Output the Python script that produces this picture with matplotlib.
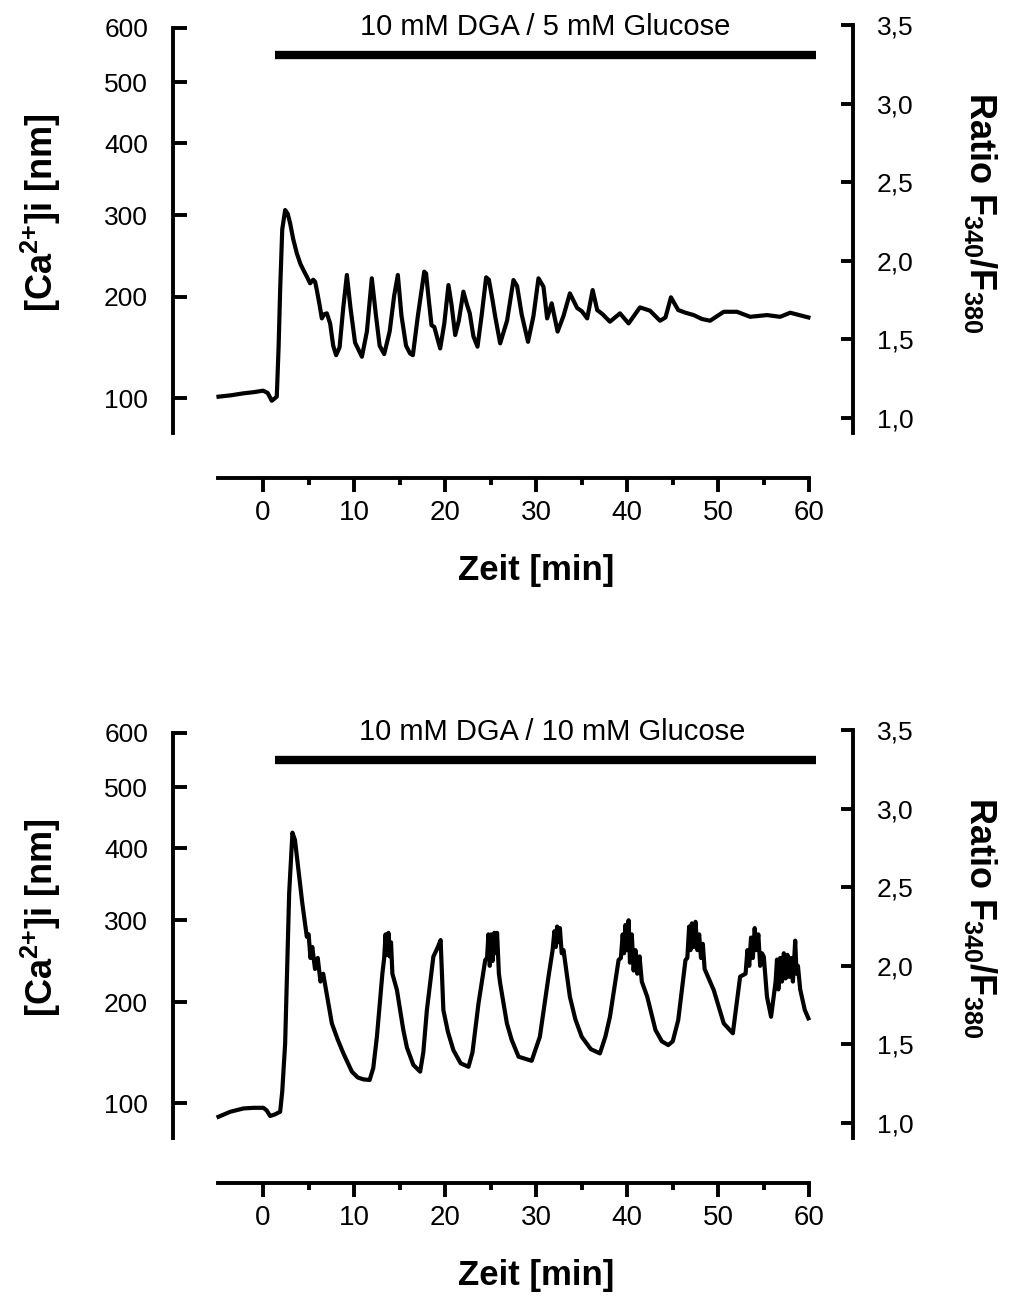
import matplotlib.pyplot as plt
from matplotlib.transforms import blended_transform_factory
import numpy as np

plt.rcParams['font.family'] = ['Liberation Sans', 'DejaVu Sans']
plt.rcParams['mathtext.fontset'] = 'custom'
plt.rcParams['mathtext.rm'] = 'Liberation Sans'
plt.rcParams['mathtext.bf'] = 'Liberation Sans:bold'
plt.rcParams['mathtext.default'] = 'regular'

# ---- data (time in min, fura-2 ratio F340/F380) ----
time_5 = [-4.9, -3.5, -2.2, -1.0, 0.0, 0.5, 0.95, 1.5, 1.7, 1.87, 2.1, 2.42, 2.7,
          2.97, 3.3, 3.7, 4.1, 4.43, 4.8, 5.16, 5.5, 5.71, 5.9, 6.2, 6.45, 6.7,
          7.0, 7.36, 7.7, 8.02, 8.4, 8.8, 9.2, 9.6, 10.1, 10.85, 11.4, 11.94,
          12.4, 12.8, 13.3, 13.9, 14.4, 14.8, 15.2, 15.7, 16.15, 16.45, 17.0,
          17.7, 17.9, 18.2, 18.5, 18.8, 19.45, 19.9, 20.36, 20.7, 21.1, 21.5,
          22.0, 22.4, 22.7, 23.1, 23.55, 24.0, 24.5, 24.8, 25.2, 25.5, 26.04,
          26.8, 27.5, 27.9, 28.4, 29.1, 29.7, 30.25, 30.8, 31.2, 31.7, 32.35,
          33.0, 33.7, 34.5, 35.0, 35.6, 36.2, 36.7, 37.3, 38.1, 39.2, 40.15,
          41.4, 42.5, 43.6, 44.2, 44.8, 45.6, 46.4, 47.3, 48.2, 49.1, 50.6,
          52.05, 53.5, 55.35, 56.8, 57.9, 59.9]
ratio_5 = [1.136, 1.145, 1.157, 1.165, 1.174, 1.16, 1.11, 1.136, 1.45, 1.814, 2.2,
           2.323, 2.30, 2.238, 2.14, 2.048, 1.98, 1.941, 1.90, 1.857, 1.88, 1.867,
           1.814, 1.72, 1.634, 1.66, 1.666, 1.602, 1.46, 1.40, 1.45, 1.70, 1.91,
           1.70, 1.48, 1.39, 1.55, 1.889, 1.65, 1.46, 1.407, 1.55, 1.78, 1.91,
           1.65, 1.46, 1.41, 1.40, 1.65, 1.931, 1.92, 1.75, 1.59, 1.58, 1.443,
           1.60, 1.846, 1.72, 1.528, 1.62, 1.804, 1.72, 1.666, 1.52, 1.454, 1.65,
           1.895, 1.88, 1.75, 1.644, 1.475, 1.62, 1.878, 1.84, 1.66, 1.485, 1.65,
           1.889, 1.835, 1.634, 1.73, 1.55, 1.65, 1.793, 1.70, 1.68, 1.634, 1.814,
           1.687, 1.66, 1.613, 1.666, 1.602, 1.704, 1.683, 1.619, 1.64, 1.768,
           1.687, 1.67, 1.655, 1.63, 1.619, 1.676, 1.676, 1.644, 1.655, 1.644,
           1.67, 1.64]

time_10 = [-4.9, -3.6, -2.16, -1.0, 0.03, 0.4, 0.77, 1.3, 1.87, 2.1, 2.42, 2.86,
           3.22, 3.5, 3.88, 4.3, 4.8, 5.0, 5.2, 5.4, 5.7, 6.0, 6.3, 6.6, 6.9,
           7.55, 8.2, 8.82, 9.75, 10.4, 11.0, 11.7, 12.1, 12.5, 13.1, 13.3,
           13.45, 13.6, 13.77, 13.9, 14.05, 14.2, 14.7, 15.4, 15.8, 16.5, 17.25,
           17.6, 17.99, 18.7, 19.2, 19.5, 19.8, 20.3, 20.9, 21.7, 22.56, 23.0,
           23.66, 24.4, 24.6, 24.75, 24.9, 25.05, 25.2, 25.4, 25.55, 25.7, 25.9,
           26.04, 26.78, 27.3, 28.06, 29.5, 30.4, 31.35, 31.8, 32.0, 32.15, 32.3,
           32.45, 32.6, 32.8, 33.0, 33.7, 34.3, 35.0, 36.0, 37.0, 37.6, 38.1,
           39.05, 39.3, 39.5, 39.65, 39.8, 39.95, 40.15, 40.3, 40.5, 40.7, 40.9,
           41.1, 41.35, 41.6, 42.2, 43.1, 43.8, 44.5, 45.0, 45.6, 46.4, 46.6,
           46.8, 46.95, 47.1, 47.3, 47.5, 47.7, 47.9, 48.1, 48.3, 48.5, 49.5,
           50.6, 51.6, 52.4, 53.0, 53.2, 53.4, 53.6, 53.8, 54.0, 54.2, 54.4,
           54.6, 54.8, 55.0, 55.35, 55.8, 56.3, 56.45, 56.6, 56.8, 57.0, 57.2,
           57.4, 57.6, 57.8, 58.0, 58.2, 58.45, 58.6, 58.75, 59.0, 59.5, 59.9]
ratio_10 = [1.04, 1.072, 1.093, 1.097, 1.097, 1.08, 1.045, 1.055, 1.072, 1.2,
            1.507, 2.461, 2.847, 2.80, 2.609, 2.40, 2.185, 2.2, 2.05, 2.12, 1.98,
            2.05, 1.9, 1.95, 1.85, 1.634, 1.53, 1.443, 1.327, 1.29, 1.278, 1.274,
            1.35, 1.549, 1.95, 2.05, 2.2, 2.07, 2.21, 2.06, 2.15, 1.95, 1.846,
            1.592, 1.48, 1.37, 1.327, 1.45, 1.719, 2.058, 2.12, 2.164, 1.719,
            1.58, 1.464, 1.38, 1.358, 1.45, 1.761, 2.037, 2.05, 2.2, 2.0, 2.2,
            2.03, 2.21, 2.08, 2.21, 1.95, 1.889, 1.634, 1.53, 1.422, 1.396, 1.549,
            1.931, 2.1, 2.22, 2.12, 2.25, 2.15, 2.24, 2.08, 2.10, 1.803, 1.66,
            1.549, 1.47, 1.443, 1.55, 1.676, 2.037, 2.05, 2.2, 2.08, 2.26, 2.1,
            2.29, 2.02, 2.2, 1.97, 2.1, 1.95, 2.06, 1.9, 1.803, 1.592, 1.52, 1.496,
            1.52, 1.655, 2.037, 2.05, 2.25, 2.1, 2.27, 2.12, 2.28, 2.1, 2.2, 2.05,
            2.14, 1.98, 1.846, 1.634, 1.571, 1.931, 1.95, 2.1, 2.0, 2.18, 2.05,
            2.24, 2.1, 2.2, 2.0, 2.08, 2.058, 1.803, 1.676, 1.9, 2.04, 1.85, 2.05,
            1.9, 2.08, 1.92, 2.07, 1.93, 2.05, 1.9, 2.16, 1.95, 2.0, 1.85, 1.72,
            1.666]

titles = ['10 mM DGA / 5 mM Glucose', '10 mM DGA / 10 mM Glucose']
bar_span = [1.3, 60.7]          # treatment bar (min)

ca_labels = ['100', '200', '300', '400', '500', '600']
ca_ratio_pos = [1.127, 1.770, 2.291, 2.749, 3.137, 3.481]
ratio_ticks = [1.0, 1.5, 2.0, 2.5, 3.0, 3.5]
ratio_labels = ['1,0', '1,5', '2,0', '2,5', '3,0', '3,5']
time_ticks = [0, 10, 20, 30, 40, 50, 60]

fig = plt.figure(figsize=(10.09, 12.96), dpi=100)
W, H = 1009, 1296

panels = [(time_5, ratio_5, titles[0], 433, 31.0),
          (time_10, ratio_10, titles[1], 1138, 31.8)]

for t, r, title, bot_px, title_x in panels:
    ax = fig.add_axes([173 / W, 1 - bot_px / H, 680 / W, 408 / H])
    ax.plot(t, r, color='black', lw=3.0, solid_joinstyle='round')
    ax.plot(bar_span, [3.31, 3.31], color='black', lw=6, solid_capstyle='butt')
    ax.text(title_x, 3.436, title, ha='center', va='baseline', fontsize=21)

    ax.set_xlim(-9.9, 64.8)
    ax.set_ylim(0.905, 3.5)

    for s in ['top', 'right']:
        ax.spines[s].set_visible(False)
    ax.spines['left'].set_linewidth(2.8)
    ax.spines['left'].set_bounds(0.905, 3.481)
    ax.spines['bottom'].set_linewidth(2.8)
    ax.spines['bottom'].set_bounds(-5, 60)
    ax.spines['bottom'].set_position(('outward', 32.4))

    ax.set_xticks(time_ticks)
    ax.set_xticks(np.arange(5, 60, 10), minor=True)
    ax.tick_params(axis='x', which='major', direction='out', length=10, width=2.8,
                   pad=6, labelsize=20)
    ax.tick_params(axis='x', which='minor', direction='out', length=5, width=2.8)
    ax.set_yticks(ca_ratio_pos, labels=ca_labels)
    ax.tick_params(axis='y', direction='in', length=10, width=2.8, pad=18,
                   labelsize=19)

    ax2 = ax.twinx()
    ax2.set_ylim(0.905, 3.5)
    for s in ['top', 'left', 'bottom']:
        ax2.spines[s].set_visible(False)
    ax2.spines['right'].set_linewidth(2.8)
    ax2.set_yticks(ratio_ticks, labels=ratio_labels)
    ax2.tick_params(axis='y', direction='in', length=9, width=2.8, pad=17,
                    labelsize=19)

    ax.text(-0.194, 0.539, r'[Ca$^{\mathbf{2{+}}}$]i [nm]', transform=ax.transAxes,
            rotation=90, ha='center', va='center', fontsize=26, fontweight='bold')
    ax.text(1.187, 0.539, r'Ratio F$_{\mathbf{340}}$/F$_{\mathbf{380}}$',
            transform=ax.transAxes, rotation=-90, ha='center', va='center',
            fontsize=26, fontweight='bold')
    trans = blended_transform_factory(ax.transData, ax.transAxes)
    ax.text(30, -0.336, 'Zeit [min]', transform=trans, ha='center', va='center',
            fontsize=25, fontweight='bold')

fig.savefig('out.png', dpi=100)
